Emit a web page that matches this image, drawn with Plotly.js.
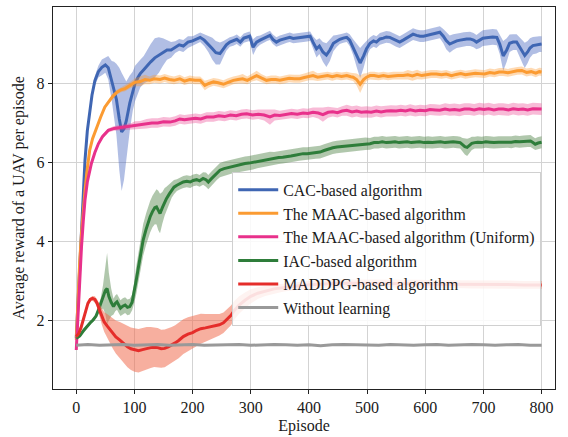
<!DOCTYPE html>
<html>
<head>
<meta charset="utf-8">
<script src="https://cdn.plot.ly/plotly-3.0.1.min.js"></script>
<style>html,body{margin:0;padding:0;background:#fff;}#chart{width:568px;height:437px;}</style>
</head>
<body>
<div id="chart"></div>
<script>
// ---------------- data ----------------
const seriesNames = ["CAC-based algorithm", "The MAAC-based algorithm", "The MAAC-based algorithm (Uniform)", "IAC-based algorithm", "MADDPG-based algorithm", "Without learning"];
const xTicks = [0, 100, 200, 300, 400, 500, 600, 700, 800];
const yTicks = [2, 4, 6, 8];

const cacEp = [0,3,6,9,12,15,19,23,27,32,38,44,50,55,61,65,69,74,78,82,86,92,97,101,106,110,116,121,128,135,142,149,156,163,170,177,184,192,200,207,213,220,227,234,240,247,253,258,264,270,276,282,288,294,298,304,310,316,322,328,333,338,344,350,356,362,367,373,380,387,394,402,407,413,418,424,430,436,442,448,453,459,465,470,476,482,488,494,499,505,511,516,522,528,533,539,545,550,556,562,568,573,579,585,591,597,602,608,614,619,625,631,636,642,648,654,660,666,671,677,683,688,694,699,705,711,716,723,728,734,740,745,751,757,762,768,771,776,780,785,791,796,800];
const cacMean = [1.55,2.5,3.5,4.36,5.3,6.05,6.8,7.3,7.7,8.07,8.3,8.41,8.47,8.4,8.07,7.85,7.6,7.1,6.77,6.85,7.05,7.5,7.8,8.0,8.15,8.25,8.35,8.44,8.55,8.65,8.72,8.8,8.85,8.85,8.92,8.98,8.95,9.05,9.08,9.12,9.17,9.1,9.0,8.88,8.78,8.76,8.88,8.98,9.05,9.08,9.12,9.05,9.15,9.18,9.2,8.92,9.05,9.1,9.15,9.2,9.22,9.12,9.05,9.1,9.12,9.15,9.17,9.14,9.15,9.16,9.18,9.2,9.05,8.88,8.95,8.8,8.72,8.85,9.02,9.08,9.12,9.15,9.17,9.1,8.92,8.72,8.52,8.7,8.88,9.02,9.08,9.05,9.13,9.15,9.18,9.17,9.12,9.08,9.05,9.1,9.15,9.2,9.25,9.22,9.2,9.2,9.22,9.25,9.27,9.28,9.3,9.2,9.09,9.0,9.05,9.08,9.1,9.12,9.13,9.13,9.1,9.05,9.1,9.15,9.16,9.17,9.18,9.17,9.0,8.7,8.85,9.02,9.05,9.05,8.92,8.78,8.71,8.8,8.9,8.96,8.98,9.0,9.0];
const cacSpread = [0.05,0.08,0.08,0.08,0.08,0.08,0.08,0.1,0.1,0.12,0.15,0.2,0.2,0.3,0.5,0.7,0.9,1.3,1.5,1.3,1.0,0.7,0.5,0.45,0.4,0.35,0.35,0.4,0.45,0.5,0.45,0.35,0.25,0.2,0.15,0.15,0.15,0.15,0.12,0.12,0.12,0.15,0.2,0.28,0.3,0.28,0.2,0.15,0.12,0.12,0.12,0.12,0.12,0.12,0.12,0.2,0.15,0.12,0.12,0.12,0.12,0.12,0.12,0.12,0.12,0.12,0.12,0.12,0.12,0.12,0.12,0.12,0.15,0.22,0.2,0.25,0.3,0.28,0.2,0.15,0.12,0.12,0.12,0.15,0.2,0.3,0.38,0.3,0.2,0.15,0.15,0.15,0.15,0.15,0.15,0.15,0.15,0.15,0.15,0.15,0.15,0.15,0.15,0.15,0.15,0.15,0.15,0.15,0.15,0.15,0.15,0.18,0.22,0.22,0.2,0.18,0.18,0.18,0.18,0.18,0.18,0.18,0.2,0.2,0.2,0.2,0.2,0.2,0.25,0.38,0.3,0.22,0.2,0.2,0.25,0.3,0.32,0.28,0.25,0.22,0.22,0.2,0.2];

const maacEp = [0,3,6,9,12,15,19,23,28,35,42,49,56,63,70,77,84,92,101,110,118,126,134,144,152,160,168,178,186,195,204,213,221,228,236,244,253,261,270,278,286,294,302,310,318,327,335,343,350,358,366,375,384,392,400,407,415,424,432,440,448,456,465,472,476,482,488,494,499,505,512,520,528,536,545,553,562,570,578,586,594,602,610,619,628,636,645,653,661,669,677,686,694,702,711,719,727,734,742,750,758,766,774,782,790,796,800];
const maacMean = [1.5,2.6,3.5,4.2,4.8,5.29,5.85,6.3,6.6,6.9,7.15,7.4,7.55,7.68,7.78,7.84,7.87,7.95,8.03,8.05,8.1,8.08,8.12,8.1,8.14,8.1,8.08,8.12,8.06,8.1,8.08,8.08,7.95,8.0,8.04,8.02,7.98,8.03,8.08,8.1,8.12,8.08,8.15,8.2,8.14,8.08,8.1,8.1,8.08,8.1,8.13,8.12,8.12,8.15,8.18,8.2,8.16,8.18,8.2,8.17,8.2,8.18,8.2,8.17,8.16,8.1,7.98,8.1,8.16,8.2,8.2,8.18,8.2,8.18,8.2,8.2,8.2,8.22,8.19,8.23,8.2,8.22,8.24,8.24,8.22,8.24,8.2,8.23,8.25,8.22,8.24,8.26,8.25,8.24,8.28,8.26,8.29,8.29,8.27,8.3,8.32,8.33,8.28,8.3,8.26,8.3,8.29];
const maacSpread = [0.04,0.05,0.05,0.05,0.05,0.05,0.05,0.05,0.05,0.05,0.05,0.05,0.05,0.06,0.06,0.06,0.07,0.08,0.1,0.12,0.12,0.1,0.1,0.1,0.1,0.1,0.1,0.1,0.1,0.1,0.1,0.1,0.12,0.1,0.1,0.1,0.1,0.1,0.1,0.1,0.12,0.1,0.1,0.12,0.1,0.1,0.1,0.1,0.1,0.1,0.1,0.1,0.1,0.1,0.1,0.12,0.1,0.1,0.1,0.1,0.1,0.1,0.1,0.1,0.1,0.15,0.22,0.15,0.1,0.1,0.1,0.1,0.1,0.1,0.1,0.1,0.1,0.12,0.12,0.12,0.1,0.1,0.1,0.1,0.1,0.1,0.1,0.1,0.1,0.1,0.1,0.1,0.1,0.1,0.1,0.1,0.1,0.1,0.1,0.1,0.1,0.1,0.1,0.1,0.1,0.1,0.1];

const unifEp = [0,3,6,9,12,15,19,23,26,32,38,45,55,65,78,87,95,101,110,121,130,140,150,161,170,178,186,195,205,214,224,236,245,255,265,275,284,293,303,313,323,333,341,350,360,370,380,390,398,407,416,424,433,441,449,457,465,474,482,490,499,507,516,524,533,541,550,558,566,574,583,591,600,608,617,625,634,642,650,659,667,676,684,693,701,709,718,726,734,743,751,760,768,776,785,793,800];
const unifMean = [1.24,2.2,3.1,3.86,4.5,5.04,5.5,5.8,5.97,6.25,6.47,6.65,6.81,6.86,6.89,6.9,6.92,6.94,6.95,6.98,7.0,7.0,7.03,7.02,7.05,7.1,7.08,7.1,7.12,7.1,7.15,7.15,7.18,7.16,7.2,7.18,7.22,7.23,7.2,7.22,7.2,7.15,7.2,7.19,7.22,7.24,7.22,7.25,7.24,7.27,7.25,7.21,7.27,7.28,7.26,7.3,7.32,7.28,7.3,7.27,7.28,7.27,7.3,7.28,7.3,7.31,7.3,7.32,7.3,7.33,7.3,7.32,7.31,7.34,7.33,7.32,7.35,7.33,7.34,7.32,7.35,7.35,7.33,7.36,7.34,7.36,7.33,7.35,7.35,7.33,7.36,7.34,7.35,7.33,7.36,7.35,7.35];
const unifSpread = [0.04,0.05,0.05,0.05,0.05,0.05,0.05,0.05,0.05,0.05,0.05,0.05,0.05,0.06,0.06,0.07,0.08,0.1,0.1,0.12,0.12,0.12,0.12,0.12,0.12,0.12,0.12,0.12,0.12,0.12,0.12,0.12,0.12,0.12,0.12,0.12,0.12,0.12,0.12,0.12,0.14,0.2,0.14,0.12,0.12,0.12,0.12,0.12,0.12,0.12,0.14,0.18,0.14,0.12,0.12,0.12,0.14,0.14,0.14,0.14,0.14,0.14,0.14,0.14,0.14,0.14,0.14,0.14,0.14,0.14,0.14,0.14,0.14,0.14,0.14,0.14,0.15,0.15,0.15,0.15,0.15,0.15,0.15,0.15,0.15,0.15,0.15,0.15,0.15,0.15,0.15,0.15,0.15,0.15,0.15,0.15,0.15];

const iacEp = [0,6,12,18,24,29,34,38,42,46,50,53,56,60,64,67,70,73,76,80,84,88,92,96,99,103,107,111,115,120,124,127,131,135,138,141,144,148,152,155,160,164,168,173,178,184,190,196,201,207,212,218,223,227,232,237,242,247,254,262,269,276,283,290,297,304,311,318,326,333,340,348,355,362,369,376,383,390,397,405,412,419,426,434,441,448,455,462,469,476,483,490,497,505,512,519,526,533,541,548,555,562,569,576,583,590,598,605,612,619,626,634,641,648,655,660,664,668,672,676,680,685,690,697,704,711,718,726,734,741,748,755,762,769,776,781,785,789,794,800];
const iacMean = [1.54,1.6,1.72,1.83,1.93,2.0,2.1,2.25,2.4,2.59,2.75,2.8,2.6,2.45,2.34,2.42,2.46,2.38,2.3,2.35,2.38,2.32,2.34,2.45,2.65,3.0,3.35,3.7,4.03,4.3,4.5,4.62,4.75,4.85,4.87,4.78,4.7,4.85,5.0,5.08,5.2,5.3,5.37,5.42,5.46,5.5,5.52,5.5,5.54,5.56,5.53,5.59,5.56,5.5,5.58,5.66,5.74,5.8,5.84,5.87,5.9,5.92,5.95,5.97,5.98,6.0,6.03,6.05,6.07,6.09,6.1,6.12,6.13,6.14,6.16,6.18,6.2,6.22,6.22,6.24,6.25,6.26,6.3,6.34,6.37,6.39,6.4,6.42,6.42,6.43,6.45,6.46,6.47,6.47,6.5,6.5,6.52,6.5,6.51,6.52,6.5,6.51,6.52,6.5,6.51,6.52,6.5,6.51,6.5,6.51,6.52,6.5,6.51,6.52,6.51,6.5,6.45,6.4,6.38,6.42,6.48,6.5,6.51,6.5,6.52,6.51,6.5,6.51,6.51,6.52,6.51,6.53,6.52,6.53,6.54,6.54,6.5,6.46,6.49,6.51];
const iacSpread = [0.04,0.05,0.05,0.05,0.05,0.05,0.06,0.1,0.15,0.3,0.6,0.9,0.6,0.35,0.2,0.2,0.2,0.2,0.2,0.2,0.2,0.2,0.2,0.2,0.25,0.35,0.4,0.4,0.4,0.4,0.4,0.4,0.4,0.42,0.45,0.5,0.5,0.4,0.35,0.3,0.25,0.2,0.18,0.15,0.15,0.15,0.15,0.15,0.15,0.15,0.15,0.16,0.18,0.18,0.18,0.18,0.18,0.18,0.18,0.18,0.18,0.18,0.18,0.18,0.18,0.18,0.18,0.18,0.18,0.18,0.16,0.16,0.16,0.16,0.16,0.16,0.16,0.16,0.16,0.16,0.16,0.16,0.16,0.16,0.16,0.16,0.16,0.16,0.16,0.16,0.16,0.16,0.16,0.15,0.15,0.15,0.15,0.15,0.15,0.15,0.15,0.15,0.15,0.15,0.15,0.15,0.15,0.15,0.15,0.15,0.15,0.15,0.15,0.15,0.15,0.15,0.17,0.2,0.22,0.2,0.17,0.15,0.15,0.15,0.15,0.15,0.15,0.15,0.15,0.15,0.15,0.15,0.15,0.15,0.15,0.15,0.15,0.15,0.15,0.15];

const maddpgEp = [0,4,8,12,16,20,24,28,32,36,40,44,48,53,58,63,68,75,82,88,94,100,107,114,121,128,134,140,146,152,158,164,170,176,184,192,200,207,214,222,230,238,246,253,260,266,272,280,290,300,312,325,340,355,370,390,410,430,450,470,500,530,560,590,620,650,680,710,740,770,800];
const maddpgMean = [1.58,1.65,1.8,2.0,2.22,2.42,2.52,2.55,2.52,2.42,2.25,2.08,1.95,1.85,1.75,1.65,1.57,1.49,1.4,1.32,1.27,1.24,1.22,1.25,1.28,1.3,1.31,1.3,1.27,1.28,1.32,1.36,1.42,1.48,1.58,1.64,1.68,1.74,1.78,1.8,1.83,1.85,1.88,1.93,2.03,2.12,2.25,2.38,2.5,2.6,2.68,2.74,2.79,2.82,2.85,2.88,2.9,2.92,2.93,2.93,2.93,2.93,2.92,2.92,2.91,2.91,2.9,2.9,2.9,2.89,2.89];
const maddpgSpread = [0.04,0.05,0.05,0.05,0.05,0.05,0.05,0.06,0.08,0.1,0.15,0.2,0.25,0.3,0.34,0.38,0.42,0.46,0.5,0.52,0.54,0.55,0.55,0.55,0.54,0.52,0.5,0.5,0.48,0.48,0.47,0.46,0.45,0.45,0.44,0.43,0.42,0.4,0.38,0.35,0.32,0.3,0.27,0.26,0.25,0.25,0.24,0.22,0.2,0.18,0.15,0.13,0.12,0.1,0.1,0.1,0.1,0.1,0.1,0.1,0.1,0.1,0.1,0.1,0.1,0.1,0.1,0.1,0.1,0.1,0.1];

const noLearnEp = [0,20,40,60,80,100,120,140,160,180,200,220,240,260,280,300,320,340,360,380,400,420,440,460,480,500,520,540,560,580,600,620,640,660,680,700,720,740,760,780,800];
const noLearnMean = [1.36,1.38,1.36,1.37,1.38,1.36,1.37,1.38,1.36,1.37,1.38,1.36,1.37,1.37,1.38,1.36,1.37,1.38,1.37,1.36,1.37,1.35,1.37,1.38,1.37,1.37,1.36,1.38,1.37,1.36,1.37,1.38,1.36,1.37,1.38,1.37,1.36,1.37,1.38,1.36,1.36];

// ---------------- styles ----------------
const lineColors = ["#3f66b3", "#fb9b32", "#e8318b", "#2e7d3a", "#e52d2a", "#999999"];
const bandColors = ["rgba(70,100,190,0.42)", "rgba(253,150,40,0.35)", "rgba(235,60,140,0.35)", "rgba(80,130,70,0.45)", "rgba(240,110,80,0.55)", "rgba(150,150,150,0.3)"];

function band(ep, mean, spread, color) {
  const up = mean.map((m, i) => m + spread[i]);
  const lo = mean.map((m, i) => m - spread[i]);
  return {
    x: ep.concat(ep.slice().reverse()),
    y: up.concat(lo.slice().reverse()),
    type: "scatter", mode: "lines", fill: "toself",
    fillcolor: color, line: {width: 0, color: color},
    hoverinfo: "skip", showlegend: false
  };
}
function line(ep, mean, name, color) {
  return {x: ep, y: mean, type: "scatter", mode: "lines", name: name,
    line: {color: color, width: 3}};
}

const all = [
  [cacEp, cacMean, cacSpread],
  [maacEp, maacMean, maacSpread],
  [unifEp, unifMean, unifSpread],
  [iacEp, iacMean, iacSpread],
  [maddpgEp, maddpgMean, maddpgSpread]
];
const traces = [];
all.forEach((s, i) => {
  traces.push(band(s[0], s[1], s[2], bandColors[i]));
  traces.push(line(s[0], s[1], seriesNames[i], lineColors[i]));
});
traces.push(line(noLearnEp, noLearnMean, seriesNames[5], lineColors[5]));

const FAM = "Liberation Serif";
const font = {family: FAM, size: 16, color: "#1a1a1a"};
const axisCommon = {
  showgrid: true, gridcolor: "#d3d3d3", gridwidth: 1, zeroline: false,
  showline: true, linecolor: "#222", linewidth: 1.2, mirror: true,
  ticks: "outside", ticklen: 4, tickcolor: "#222", tickfont: font
};
const layout = {
  width: 568, height: 437,
  margin: {l: 53, r: 13, t: 7, b: 48},
  paper_bgcolor: "#fff", plot_bgcolor: "#fff",
  font: font,
  showlegend: true,
  xaxis: Object.assign({}, axisCommon, {range: [-40, 823], tickvals: xTicks, ticktext: xTicks.map(String),
    title: {text: "Episode", font: font, standoff: 4}}),
  yaxis: Object.assign({}, axisCommon, {range: [0.25, 9.94], tickvals: yTicks, ticktext: yTicks.map(String),
    title: {text: "Average reward of a UAV per episode", font: font, standoff: 8}}),
  legend: {x: 0.357, y: 0.568, xanchor: "left", yanchor: "top",
    bgcolor: "rgba(255,255,255,0.85)", bordercolor: "#d0d0d0", borderwidth: 1,
    font: {family: FAM, size: 15.8, color: "#1a1a1a"},
    itemwidth: 40, tracegroupgap: 0}
};
Plotly.newPlot("chart", traces, layout, {displayModeBar: false, staticPlot: true});
</script>
</body>
</html>
